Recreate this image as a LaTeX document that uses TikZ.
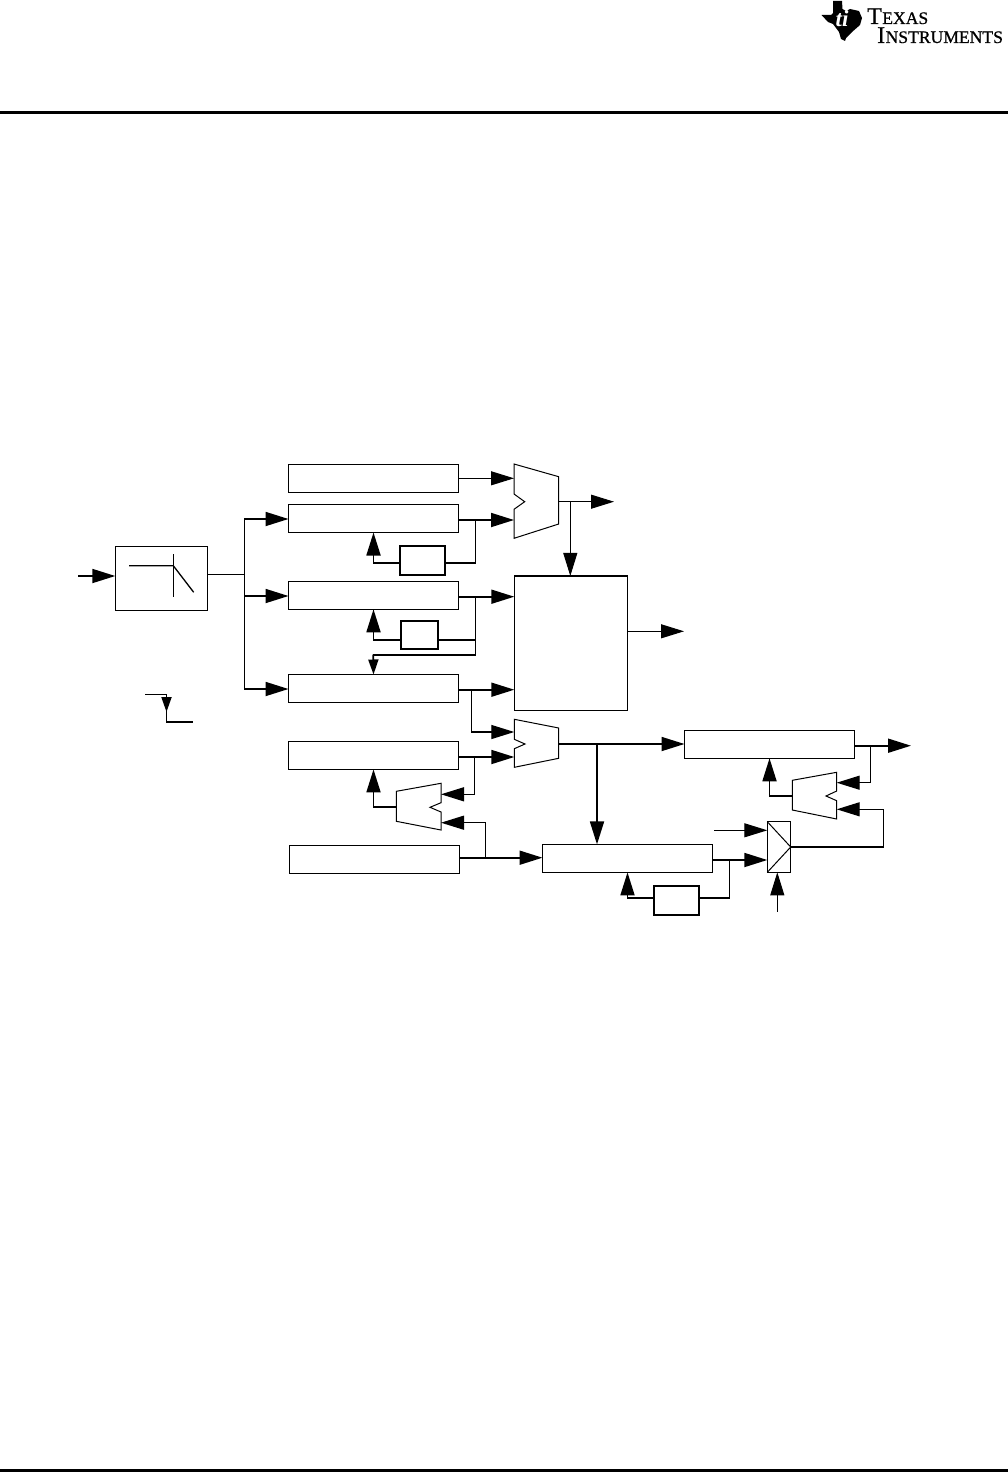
\documentclass[tikz,border=0pt]{standalone}
\usepackage{fontspec}
\setmainfont{Liberation Serif}
\newfontfamily\logofont[FakeBold=0.8]{Liberation Serif}
\usetikzlibrary{arrows.meta, calc}
\tikzset{
    % Box styles with sharp corners
    component/.style={
        rectangle,
        draw=black,
        fill=white,
        line width=1pt,
        inner sep=0pt,
        outer sep=0pt,
        minimum width=170pt,
        minimum height=28pt
    },
    delay box/.style={
        component,
        line width=1.8pt,
        minimum width=45pt,
        minimum height=29pt
    },
    large box/.style={
        component,
        line width=1.5pt
    },
    mux line/.style={
        draw=black,
        fill=white,
        line width=1pt,
        line join=miter
    },
    thin line/.style={
        draw=black,
        line width=1pt
    },
    thick line/.style={
        draw=black,
        line width=1.8pt
    },
    arrow style/.style={
        thin line,
        -{Triangle[length=23pt,width=14pt]}
    },
    thick arrow style/.style={
        thick line,
        -{Triangle[length=23pt,width=14pt]}
    },
    small arrow style/.style={
        thick line,
        -{Triangle[length=15pt,width=10pt]}
    },
    logo big/.style={anchor=base west, inner sep=0pt, font=\logofont\fontsize{24}{24}\selectfont},
    logo text/.style={anchor=base west, inner sep=0pt, font=\logofont\fontsize{17.6}{18}\selectfont}
}
\begin{document}
\begin{tikzpicture}[x=1pt, y=-1pt]
    \useasboundingbox (0,0) rectangle (1008,1472);
    \fill[white] (0,0) rectangle (1008,1472);

    % Header and footer rules
    \fill[black] (0,111) rectangle (1008,114);
    \fill[black] (0,1469) rectangle (1008,1472);

    % Logo
    \fill[black] (833,1) -- (842,1) -- (842.5,9) -- (846,11) -- (850,9) -- (859,11) -- (862,18) -- (860,25)
        -- (852,32) -- (846,38) -- (845,41) -- (841,39) -- (839,32) -- (833,24) -- (828,22)
        -- (821.5,15) -- (831,15) -- (833,13) -- cycle;
    \node[anchor=center, inner sep=0pt, text=white, font=\fontsize{23}{23}\selectfont\itshape\bfseries] (logoti) at (842,19) {ti};
    \node[logo big] (logot) at (867,24) {T};
    \node[logo text] (logoexas) at (logot.base east) {EXAS};
    \node[logo big] (logoi) at (877,43) {I};
    \node[logo text] (logonstr) at (logoi.base east) {NSTRUMENTS};

    % Filter
    \node[large box, minimum width=92.4pt, minimum height=63.6pt] (filter) at (161.5,578.5) {};
    \draw[thick line, line width=1.3pt] (129,565.7) -- (173.3,565.7) -- (193.7,592.3);
    \draw[thin line] (173.3,554.3) -- (173.3,597.3);

    % Memory and control blocks
    \node[component] (boxa) at (373.5,478) {};
    \node[component] (boxb) at (373.5,518.5) {};
    \node[component] (boxc) at (373.5,595.3) {};
    \node[component] (boxd) at (373.5,688.5) {};
    \node[component] (boxe) at (373.5,755.4) {};
    \node[component] (boxf) at (374.5,859.5) {};
    \node[component] (boxg) at (627.5,858.4) {};
    \node[component] (boxh) at (769.5,744.3) {};

    % Delay blocks
    \node[delay box] (delaya) at (422.6,560.5) {};
    \node[delay box, minimum width=37.6pt, minimum height=28pt] (delayb) at (419.5,635) {};
    \node[delay box] (delayc) at (676.5,900.3) {};

    % Combining block
    \node[large box, minimum width=113pt, minimum height=134.7pt] (combine) at (570.8,643.3) {};

    % Selector
    \node[large box, minimum width=23.4pt, minimum height=50.6pt] (selector) at (779,847) {};
    \draw[thin line] (selector.north west) -- (selector.east) -- (selector.south west);

    % Multiplexers
    \draw[mux line] (514,464) -- (558.7,476.7) -- (558.7,524) -- (514,538.3) -- (514,509.3) -- (524.7,501.7) -- (514,494) -- cycle;
    \draw[mux line] (514.3,719.3) -- (558.7,728) -- (558.7,758.3) -- (514.3,767.3) -- (514.3,748.7) -- (525,744) -- (514.3,739.3) -- cycle;
    \draw[mux line] (441,783.3) -- (396.3,791.3) -- (396.3,821.3) -- (441,830) -- (441,812) -- (430,807.3) -- (441,802.7) -- cycle;
    \draw[mux line] (836.7,772.3) -- (792.3,780.3) -- (792.3,810) -- (836.7,819) -- (836.7,800.7) -- (826,796) -- (836.7,791) -- cycle;
    \coordinate (muxa in1) at (514,478.3);
    \coordinate (muxa in2) at (514,520);
    \coordinate (muxa out) at (558.7,501.7);
    \coordinate (muxb in1) at (514.3,732);
    \coordinate (muxb in2) at (514.3,757);
    \coordinate (muxb out) at (558.7,744);
    \coordinate (muxc in1) at (441,794.3);
    \coordinate (muxc in2) at (441,822.7);
    \coordinate (muxc out) at (396.3,807.3);
    \coordinate (muxd in1) at (836.7,782.7);
    \coordinate (muxd in2) at (836.7,809.3);
    \coordinate (muxd out) at (792.3,796);

    % Free line ends
    \coordinate (input) at (78,576);
    \coordinate (resetstart) at (145,694.5);
    \coordinate (resetmid) at (166.5,712);
    \coordinate (resetstep) at (166.5,722);
    \coordinate (resetend) at (193,722);
    \coordinate (muxout end) at (614,501.7);
    \coordinate (combine end) at (684,631.3);
    \coordinate (boxh end) at (911,745.7);
    \coordinate (sel in1) at (714,830.3);
    \coordinate (sel in3) at (777.3,911.7);

    % Filter branches
    \coordinate (split) at (244.3,574.3);
    \draw[thick arrow style] (input) -- (filter.west |- input);
    \draw[thin line] (filter.east |- split) -- (split);
    \draw[thin line, line width=1.3pt] (split |- boxb.west) -- (split |- boxd.west);
    \draw[thick arrow style] (split |- 0,519) -- (boxb.west |- 0,519);
    \draw[thick arrow style] (split |- 0,596) -- (boxc.west |- 0,596);
    \draw[thick arrow style] (split |- 0,689) -- (boxd.west |- 0,689);

    % Step marker
    \draw[thick line] (resetstart) -| (resetstep) -- (resetend);
    \draw[small arrow style] (166.5,697) -- (resetmid);

    % Upper feedback paths
    \coordinate (tapb) at (475.5,520);
    \coordinate (tapc) at (475.5,596.7);
    \coordinate (tapd) at (471.3,689.7);
    \coordinate (tape) at (474.3,757);
    \coordinate (tapf) at (485.3,857.7);
    \coordinate (tapg) at (729.3,860);
    \coordinate (taph) at (870.3,745.7);
    \coordinate (tapa) at (570.3,501.7);
    \coordinate (tapm) at (597,744);

    \draw[arrow style] (boxa.east |- muxa in1) -- (muxa in1);
    \draw[thick arrow style] (boxb.east |- muxa in2) -- (muxa in2);
    \draw[thick line, line width=1.3pt] (tapb) |- ([yshift=-2.5pt]delaya.east);
    \draw[thick arrow style] ([yshift=-2.5pt]delaya.west) -| (boxb.south);

    \draw[thick arrow style] (boxc.east |- tapc) -- (combine.west |- tapc);
    \draw[thick line, line width=1.3pt] (tapc) |- ([yshift=-5pt]delayb.east);
    \draw[thick arrow style] ([yshift=-5pt]delayb.west) -| (boxc.south);
    \draw[thick line] ([yshift=-5pt]tapc |- delayb.east) |- (373.3,654.7);
    \draw[small arrow style] (373.3,654.7) -- (boxd.north);

    \draw[thick arrow style] (boxd.east |- tapd) -- (combine.west |- tapd);
    \draw[thick arrow style, line width=1.3pt] (tapd) |- (muxb in1);
    \draw[thick arrow style] (boxe.east |- muxb in2) -- (muxb in2);
    \draw[thick arrow style, line width=1.3pt] (tape) |- (muxc in1);
    \draw[thick arrow style] (muxc out) -| (boxe.south);

    % Multiplexer outputs
    \draw[arrow style] (muxa out) -- (muxout end);
    \draw[arrow style] (tapa) -- (tapa |- combine.north);
    \draw[arrow style] (combine.east |- combine end) -- (combine end);
    \draw[thick arrow style] (muxb out) -- (boxh.west |- muxb out);
    \draw[thick arrow style] (tapm) -- (tapm |- boxg.north);

    % Lower paths
    \draw[thick arrow style] (boxf.east |- tapf) -- (boxg.west |- tapf);
    \draw[thick arrow style, line width=1.3pt] (tapf) |- (muxc in2);
    \draw[thick arrow style] (boxg.east |- tapg) -- (selector.west |- tapg);
    \draw[thick line, line width=1.3pt] (tapg) |- ([yshift=2.4pt]delayc.east);
    \draw[thick arrow style] ([yshift=2.4pt]delayc.west) -| (boxg.south);
    \draw[arrow style] (sel in1) -- (selector.west |- sel in1);
    \draw[arrow style] (sel in3) -- (sel in3 |- selector.south);
    \draw[thick arrow style, line width=1.3pt] (selector.east) -| (883.3,809.3) -- (muxd in2);

    % Output block
    \draw[thick arrow style] (boxh.east |- boxh end) -- (boxh end);
    \draw[thick arrow style, line width=1.3pt] (taph) |- (muxd in1);
    \draw[thick arrow style] (muxd out) -| (boxh.south);
\end{tikzpicture}
\end{document}
